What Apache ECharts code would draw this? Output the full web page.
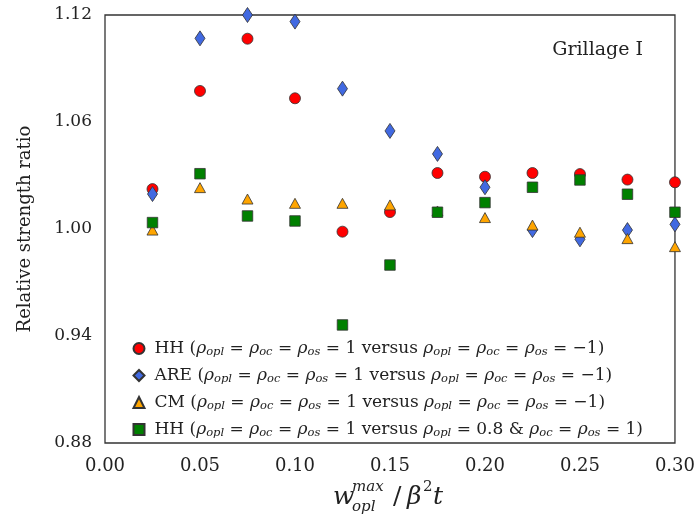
<!DOCTYPE html>
<html>
<head>
<meta charset="utf-8">
<script src="https://cdn.jsdelivr.net/npm/echarts@6/dist/echarts.min.js"></script>
<style>
html,body{margin:0;padding:0;background:#fff;}
#chart{width:698px;height:527px;}
</style>
</head>
<body>
<div id="chart"></div>
<script>
const xValues = [0.025, 0.05, 0.075, 0.10, 0.125, 0.15, 0.175, 0.20, 0.225, 0.25, 0.275, 0.30];
const hhNeg = [1.0224, 1.0774, 1.1067, 1.0733, 0.9985, 1.0095, 1.0314, 1.0293, 1.0314, 1.0308, 1.0277, 1.0262];
const areNeg = [1.0196, 1.1069, 1.1200, 1.1163, 1.0787, 1.0550, 1.0421, 1.0234, 0.9994, 0.9942, 0.9994, 1.0026];
const cmNeg = [0.9994, 1.0232, 1.0168, 1.0144, 1.0144, 1.0135, 1.0101, 1.0064, 1.0022, 0.9982, 0.9946, 0.9901];
const hh08 = [1.0036, 1.0310, 1.0073, 1.0045, 0.9462, 0.9798, 1.0094, 1.0148, 1.0234, 1.0275, 1.0195, 1.0094];
const yTicks = [0.88, 0.94, 1.00, 1.06, 1.12];
const seriesNames = ['HH (-1)', 'ARE (-1)', 'CM (-1)', 'HH (0.8)'];
const legendLabels = [
  'HH ({i|ρ}{s|opl} = {i|ρ}{s|oc} = {i|ρ}{s|os} = 1 versus {i|ρ}{s|opl} = {i|ρ}{s|oc} = {i|ρ}{s|os} = −1)',
  'ARE ({i|ρ}{s|opl} = {i|ρ}{s|oc} = {i|ρ}{s|os} = 1 versus {i|ρ}{s|opl} = {i|ρ}{s|oc} = {i|ρ}{s|os} = −1)',
  'CM ({i|ρ}{s|opl} = {i|ρ}{s|oc} = {i|ρ}{s|os} = 1 versus {i|ρ}{s|opl} = {i|ρ}{s|oc} = {i|ρ}{s|os} = −1)',
  'HH ({i|ρ}{s|opl} = {i|ρ}{s|oc} = {i|ρ}{s|os} = 1 versus {i|ρ}{s|opl} = 0.8 & {i|ρ}{s|oc} = {i|ρ}{s|os} = 1)'
];
const colors = ['#ff0000', '#4169e1', '#ffa500', '#008000'];
const symbols = ['circle', 'diamond', 'triangle', 'rect'];
const symbolSizes = [11, [10, 15], [11, 10], 10.5];
const seriesData = [hhNeg, areNeg, cmNeg, hh08];

const FONT = 'DejaVu Serif';
const chart = echarts.init(document.getElementById('chart'));
const series = seriesData.map((vals, k) => ({
  name: seriesNames[k],
  type: 'scatter',
  data: xValues.map((x, i) => [x, vals[i]]),
  symbol: symbols[k],
  symbolSize: symbolSizes[k],
  clip: false,
  itemStyle: {color: colors[k], borderColor: '#333', borderWidth: 0.8, opacity: 1},
  emphasis: {disabled: true}
}));

chart.setOption({
  animation: false,
  grid: {left: 105, right: 21, top: 15, bottom: 84, show: true, borderColor: '#333', borderWidth: 1.3, backgroundColor: 'transparent'},
  xAxis: {
    type: 'value', min: 0, max: 0.30, interval: 0.05,
    axisLine: {show: false}, axisTick: {show: false}, splitLine: {show: false},
    axisLabel: {margin: 14, color: '#222', fontFamily: FONT, fontSize: 18, formatter: v => v.toFixed(2)}
  },
  yAxis: {
    type: 'value', min: 0.88, max: 1.12,
    name: 'Relative strength ratio', nameLocation: 'middle', nameGap: 71,
    nameTextStyle: {fontFamily: FONT, fontSize: 18, color: '#222'},
    axisLine: {show: false}, axisTick: {show: false}, splitLine: {show: false},
    axisLabel: {margin: 13, color: '#222', fontFamily: FONT, fontSize: 17,
      customValues: yTicks, formatter: v => v.toFixed(2)}
  },
  legend: {
    orient: 'vertical', left: 127.5, top: 335, itemWidth: 11, itemHeight: 11, itemGap: 8.5,
    data: seriesNames.map(n => ({name: n})),
    formatter: name => legendLabels[seriesNames.indexOf(name)],
    textStyle: {
      fontFamily: FONT, fontSize: 17, color: '#222', padding: [0, 0, 0, 5],
      rich: {
        i: {fontFamily: FONT, fontSize: 17, fontStyle: 'italic', color: '#222'},
        s: {fontFamily: FONT, fontSize: 11.5, fontStyle: 'italic', color: '#222', padding: [8, 0, 0, 0]}
      }
    }
  },
  graphic: [
    {type: 'text', right: 55, top: 41, style: {text: 'Grillage I', font: '19px "' + FONT + '"', fill: '#222'}},
    {type: 'group', left: 333, top: 480, children: [
      {type: 'text', x: 0, y: 5, style: {text: 'w', font: 'italic 25px "' + FONT + '"', fill: '#222'}},
      {type: 'text', x: 19, y: 0, style: {text: 'max', font: 'italic 15px "' + FONT + '"', fill: '#222'}},
      {type: 'text', x: 19, y: 20, style: {text: 'opl', font: 'italic 15px "' + FONT + '"', fill: '#222'}},
      {type: 'text', x: 60, y: 5, style: {text: '/', font: '25px "' + FONT + '"', fill: '#222'}},
      {type: 'text', x: 74, y: 5, style: {text: 'β', font: 'italic 25px "' + FONT + '"', fill: '#222'}},
      {type: 'text', x: 90, y: 0, style: {text: '2', font: '15px "' + FONT + '"', fill: '#222'}},
      {type: 'text', x: 100, y: 5, style: {text: 't', font: 'italic 25px "' + FONT + '"', fill: '#222'}}
    ]}
  ],
  series: series
});
</script>
</body>
</html>
